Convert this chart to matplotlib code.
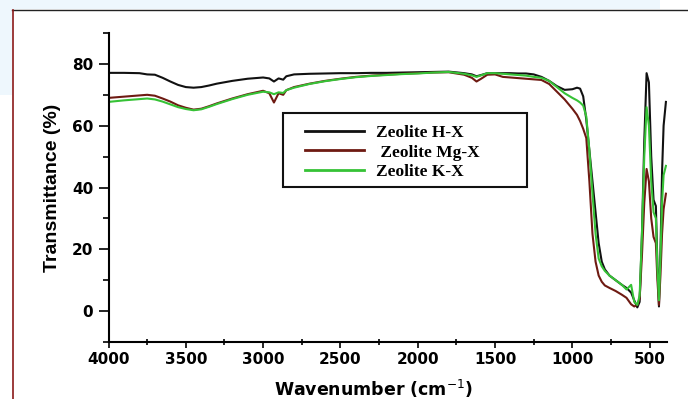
import matplotlib
matplotlib.use("Agg")
import matplotlib.pyplot as plt
from matplotlib.patches import Polygon, Rectangle
from matplotlib.ticker import MultipleLocator

# wavenumber grid (cm-1), shared by the three spectra
wavenumber = [4000, 3900, 3800, 3750, 3700, 3650, 3600, 3550, 3500, 3450, 3400,
              3350, 3300, 3200, 3100, 3000, 2960, 2930, 2900, 2870, 2850, 2800,
              2700, 2600, 2500, 2400, 2300, 2200, 2100, 2000, 1900, 1800, 1700,
              1650, 1620, 1590, 1550, 1500, 1450, 1400, 1350, 1300, 1250, 1200,
              1150, 1100, 1050, 1000, 970, 950, 930, 910, 890, 870, 850, 830,
              810, 790, 760, 720, 680, 650, 620, 600, 580, 565, 550, 535, 520,
              505, 490, 475, 460, 450, 440, 430, 420, 410, 395]

zeolite_hx = [77.1, 77.1, 77.0, 76.6, 76.5, 75.5, 74.3, 73.2, 72.5, 72.3, 72.5,
              73.0, 73.6, 74.5, 75.2, 75.6, 75.3, 74.3, 75.3, 74.9, 76.0, 76.6,
              76.8, 76.9, 77.0, 77.0, 77.1, 77.1, 77.2, 77.3, 77.4, 77.5, 77.0,
              76.6, 76.0, 76.4, 77.0, 77.0, 77.0, 77.0, 76.9, 76.9, 76.6, 75.8,
              74.5, 72.8, 71.6, 71.8, 72.3, 72.0, 69.5, 62.0, 52.0, 42.0, 32.0, 22.0,
              16.0, 13.5, 11.5, 10.0, 8.5, 7.5, 6.0, 3.5, 1.2, 3.0, 25.0, 55.0, 77.0,
              74.0, 50.0, 36.0, 34.0, 15.0, 1.5, 20.0, 45.0, 60.0, 67.7]

zeolite_mgx = [69.0, 69.4, 69.8, 70.0, 69.7, 68.8, 67.8, 66.6, 65.8, 65.2, 65.5,
               66.3, 67.2, 68.8, 70.2, 71.3, 70.5, 67.5, 70.5, 70.0, 71.5, 72.5,
               73.6, 74.5, 75.2, 75.8, 76.2, 76.5, 76.8, 77.0, 77.2, 77.3, 76.5,
               75.5, 74.3, 75.2, 76.5, 76.6, 75.8, 75.6, 75.4, 75.2, 75.0, 74.8,
               73.5, 71.0, 68.5, 65.5, 63.5, 61.5, 59.0, 56.0, 42.0, 25.0, 16.0, 11.5,
               9.5, 8.3, 7.5, 6.5, 5.3, 4.3, 2.2, 1.5, 2.0, 4.0, 18.0, 35.0, 46.0,
               42.0, 30.0, 24.0, 22.0, 10.0, 2.0, 12.0, 25.0, 33.0, 38.0]

zeolite_kx = [67.7, 68.2, 68.6, 68.8, 68.5, 67.8, 66.9, 66.0, 65.4, 65.0, 65.3,
              66.1, 67.0, 68.6, 70.0, 71.0, 70.8, 70.2, 70.8, 70.6, 71.5, 72.3,
              73.5, 74.4, 75.1, 75.7, 76.1, 76.4, 76.7, 76.9, 77.2, 77.4, 76.8,
              76.3, 75.8, 76.3, 77.0, 77.0, 76.8, 76.6, 76.4, 76.2, 75.8, 75.5,
              74.5, 72.5, 70.5, 69.0, 68.2, 67.5, 66.5, 63.0, 52.0, 38.0, 25.0, 17.0,
              14.5, 13.0, 11.5, 10.0, 8.5, 7.0, 8.5, 3.0, 2.0, 5.0, 25.0, 50.0, 66.0,
              60.0, 42.0, 32.0, 30.0, 14.0, 3.5, 18.0, 35.0, 44.0, 47.0]

series = [("Zeolite H-X", zeolite_hx, "#111111"),
          (" Zeolite Mg-X", zeolite_mgx, "#6e1a12"),
          ("Zeolite K-X", zeolite_kx, "#36c236")]

W, H = 688, 399
fig = plt.figure(figsize=(W / 100, H / 100), dpi=100)

# page decoration around the figure (pale blue watermark, frame)
fig.patches.append(Polygon([(0, 1), (660 / W, 1), (660 / W, 1 - 9 / H), (12 / W, 1 - 9 / H),
                            (12 / W, 1 - 95 / H), (0, 1 - 95 / H)],
                           closed=True, transform=fig.transFigure,
                           facecolor="#eef7fd", edgecolor="none", zorder=0))
fig.lines.append(plt.Line2D([12 / W, 1], [1 - 9.5 / H, 1 - 9.5 / H],
                            transform=fig.transFigure, color="#222222", lw=1))
fig.lines.append(plt.Line2D([12.5 / W, 12.5 / W], [0, 1 - 9.5 / H],
                            transform=fig.transFigure, color="#8b1a1a", lw=1.2))

ax = fig.add_axes([108.5 / W, (H - 342) / H, 558.5 / W, 309 / H])

for label, values, color in series:
    ax.plot(wavenumber, values, color=color, lw=1.5, label=label)

ax.set_xlim(4000, 388)
ax.set_ylim(-10, 90)
ax.xaxis.set_major_locator(MultipleLocator(500))
ax.xaxis.set_minor_locator(MultipleLocator(250))
ax.yaxis.set_major_locator(MultipleLocator(20))
ax.yaxis.set_minor_locator(MultipleLocator(10))
ax.set_yticks([0, 20, 40, 60, 80])

for side in ("top", "right"):
    ax.spines[side].set_visible(False)
for side in ("left", "bottom"):
    ax.spines[side].set_linewidth(1.5)

ax.tick_params(axis="y", which="major", direction="out", length=7, width=1.2, pad=4)
ax.tick_params(axis="y", which="minor", direction="out", length=4, width=1.2)
ax.tick_params(axis="x", which="major", direction="out", length=4, width=1.2, pad=3)
ax.tick_params(axis="x", which="minor", direction="inout", length=4, width=1.2)
for lbl in ax.get_xticklabels() + ax.get_yticklabels():
    lbl.set_fontfamily("DejaVu Sans")
    lbl.set_fontweight("bold")
    lbl.set_fontsize(11)

ax.set_ylabel("Transmittance (%)", family=["Liberation Sans Narrow", "Liberation Sans"],
              fontsize=14, fontweight="bold", labelpad=8)
ax.set_xlabel("Wavenumber (cm$^{-1}$)", family="DejaVu Sans", fontsize=12.5,
              fontweight="bold", labelpad=8)
ax.xaxis.set_label_coords(0.475, -0.115)

# legend entries without frame, box drawn separately to get the wide margins
leg = ax.legend(loc="upper left", bbox_to_anchor=(0.352, 0.703), frameon=False,
                handlelength=3.4, handletextpad=0.7, borderpad=0, labelspacing=0.2,
                borderaxespad=0,
                prop={"family": "Liberation Serif", "weight": "bold", "size": 12.5})
for line in leg.get_lines():
    line.set_linewidth(2)
ax.add_patch(Rectangle((0.3124, 0.5016), 0.4369, 0.2395, transform=ax.transAxes,
                       facecolor="white", edgecolor="#111111", lw=1.5, zorder=4))
leg.set_zorder(5)

fig.savefig("out.png", dpi=100)
